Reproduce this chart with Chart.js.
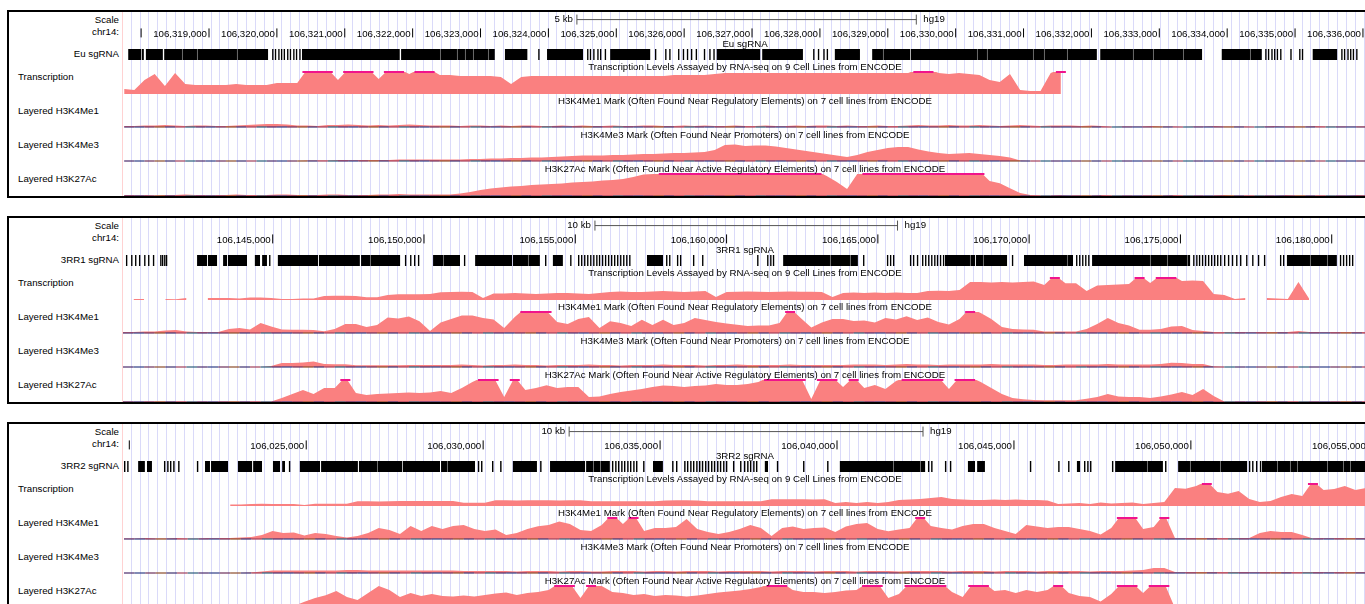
<!DOCTYPE html>
<html>
<head>
<meta charset="utf-8">
<title>IgH 3' regulatory region sgRNA tracks</title>
<script src="https://cdn.jsdelivr.net/npm/chart.js"></script>
<style>
  html, body { margin: 0; padding: 0; background: #fff; }
  body {
    width: 1365px; height: 604px; overflow: hidden; position: relative;
    font-family: "Liberation Sans", Arial, Helvetica, sans-serif; font-size: 9.7px; color: #000;
  }
  .panel { position: absolute; left: 0; width: 1400px; height: 188px; }
  .frame {
    position: absolute; left: 7px; top: 0; width: 1420px; height: 188px;
    border: 2px solid #000; box-sizing: border-box; z-index: 5; pointer-events: none;
  }
  .guides {
    position: absolute; left: 123px; top: 2px; width: 1277px; height: 184px;
    background: repeating-linear-gradient(90deg, transparent 0 7.7px, #dadaf9 7.7px 8.7px, transparent 8.7px 8.87px);
  }
  .divider { position: absolute; left: 122px; top: 2px; width: 1px; height: 184px; background: #ffd2d2; }
  .panel canvas { position: absolute; left: 123px; }
  .lbl { position: absolute; height: 12px; line-height: 12px; white-space: nowrap; z-index: 3; }
  .lbl.r { left: 0; width: 119px; text-align: right; }
  .lbl.c { left: 123px; width: 1244px; text-align: center; }
  .lbl.l { left: 18px; }
</style>
</head>
<body>
<script>
// -----------------------------------------------------------------------------
// Data: chr14 (hg19) windows around the Eu, 3RR1 and 3RR2 sgRNA sets
// -----------------------------------------------------------------------------

// Panel 1 - Eu
const P1_TICKS = [106318000, 106319000, 106320000, 106321000, 106322000, 106323000, 106324000,
  106325000, 106326000, 106327000, 106328000, 106329000, 106330000, 106331000, 106332000,
  106333000, 106334000, 106335000, 106336000];
const P1_SG_BLOCKS = [[106317810, 106318000], [106318010, 106318040], [106318070, 106318320],
  [106318340, 106319870], [106320370, 106321810], [106321830, 106323210], [106323360, 106323690],
  [106323980, 106324510], [106324910, 106325500], [106326480, 106327120], [106327150, 106327750],
  [106328220, 106328590], [106328770, 106329330], [106329340, 106332080], [106332130, 106333630],
  [106333920, 106334510], [106335260, 106335620]];
const P1_SG_SITES = [106319930, 106319970, 106320020, 106320060, 106320100, 106320150, 106320190,
  106320240, 106320280, 106320330, 106323850, 106324570, 106324610, 106324660, 106324720, 106324760,
  106324830, 106325570, 106325720, 106325780, 106325910, 106325980, 106326040, 106326100, 106326170,
  106326290, 106326370, 106326430, 106327900, 106327970, 106328050, 106328100, 106334560, 106334600,
  106334650, 106334690, 106334730, 106334780, 106334930, 106335060, 106335100, 106335680, 106335720,
  106335770, 106335810, 106335850, 106335900];
// boundaries between abutting guides inside the solid runs
const P1_SG_EDGES = [106318602, 106318823, 106319015, 106319236, 106319412, 106319560, 106321372,
  106322138, 106322403, 106322521, 106322653, 106322771, 106322889, 106323022, 106323110, 106328929,
  106329077, 106330314, 106330461, 106331139, 106331301, 106331640, 106331832, 106332318, 106332612,
  106332907, 106333202, 106333349, 106333526, 106334189, 106334336];
const P1_POS_START = 106317750;
const P1_POS_STEP = 150;
const P1_TRANSCRIPTION = [
  5, 4, 14, 20, 8, 21, 10, 9, 9, 9,
  9, 10, 9, 9, 9, 11, 11, 11, 25, 25,
  25, 14, 25, 25, 25, 15, 25, 25, 20, 25,
  25, 19, 19, 18, 18, 18, 18, 17, 10, 17,
  18, 18, 18, 18, 18, 18, 18, 18, 18, 18,
  18, 18, 18, 18, 19, 19, 19, 19, 20, 21,
  21, 21, 21, 21, 21, 21, 21, 21, 21, 21,
  21, 21, 21, 21, 21, 21, 21, 21, 25, 25,
  21, 20, 21, 20, 19, 14, 12, 20, 4, 3,
  3, 21, 25, null, null, null, null, null, null, null,
  null, null, null, null, null, null, null, null, null, null,
  null, null, null, null, null, null, null, null, null, null,
  null, null, null, null];
const P1_H3K4ME1 = [
  1, 1, 1.5, 1.5, 2, 1.5, 1, 1.5, 1.5, 1,
  1, 1.5, 2, 2.5, 3, 3, 2.5, 1.5, 1.5, 1,
  2, 2, 2.5, 2, 1.5, 2, 1.5, 2, 2.5, 2,
  1.5, 1.5, 1.5, 1, 1.5, 1.5, 1, 1.5, 1, 1.5,
  1.5, 1, 1, 1.5, 1, 1.5, 1, 1, 1.5, 1,
  1, 1.5, 1.5, 1, 1, 1.5, 1, 1.5, 1, 1,
  1.5, 1, 1, 1.5, 1, 1, 1.5, 1, 1.5, 1.5,
  1, 1.5, 1, 1, 1.5, 1, 1, 1.5, 2, 1.5,
  1.5, 2, 1.5, 1.5, 2, 1.5, 1, 1.5, 2, 1.5,
  1, 1.5, 1.5, 1.5, 1, 1.5, 1, 0, 0.5, 0.5,
  0.5, 1, 0.5, 0.5, 0, 0.5, 0.5, 1, 0.5, 0.5,
  0.5, 0, 0.5, 1, 0.5, 0.5, 0.5, 1, 0.5, 0.5,
  0.5, 0.5, 0.5, 0.5];
const P1_H3K4ME3 = [
  0, 0, 0, 0, 0, 0, 0, 0, 0, 0,
  0, 0, 0, 0, 0, 0, 0, 0, 0.5, 0.5,
  0.5, 1, 1, 1, 1, 1, 1, 1.5, 1.5, 1.5,
  1.5, 1.5, 1.5, 1.5, 2, 2, 2.5, 2.5, 3, 3,
  3.5, 3.5, 4, 4.5, 5, 5.5, 5.5, 5.5, 6, 6,
  6.5, 7, 7, 7.5, 8, 8, 8.5, 9, 11, 16,
  16.5, 15, 15.5, 15.5, 14.5, 13, 11.5, 10, 8.5, 7,
  5.5, 4, 6, 9, 11, 13, 14, 14, 11.5, 9.5,
  8, 7, 7.5, 8, 7, 6, 5, 3.5, 0.5, 0,
  0, 0, 0, 0, 0, 0, 0, 0, 0, 0,
  0, 0, 0, 0, 0, 0, 0, 0, 0, 0,
  0, 0, 0, 0, 0, 0, 0, 0, 0, 0,
  0, 0, 0, 0];
const P1_H3K27AC = [
  1, 1, 1, 0.5, 1, 1, 1.5, 1, 1, 1,
  1, 1.5, 1, 1, 1, 1.5, 1.5, 1, 1, 1,
  1.5, 1.5, 1, 1, 1, 1.5, 1.5, 2, 1.5, 1.5,
  1.5, 1.5, 1.5, 2.5, 4, 6, 7.5, 8.5, 9.5, 10,
  11, 11.5, 12, 12.5, 13.5, 14, 14.5, 15.5, 16, 17,
  19, 21.5, 22, 25, 25, 25, 25, 25, 25, 25,
  25, 25, 25, 25, 25, 25, 25, 25, 25, 20,
  14, 7, 22, 25, 25, 25, 25, 25, 25, 25,
  25, 25, 25, 25, 25, 15, 12.7, 7.7, 3, 1,
  0.5, 0.5, 1, 0.5, 0.5, 0.5, 1, 0.5, 0.5, 0.5,
  0.5, 0.5, 0.5, 1, 0.5, 0.5, 0.5, 0.5, 1, 0.5,
  0.5, 0.5, 0.5, 0.5, 1, 0.5, 0.5, 0.5, 0.5, 0.5,
  0.5, 1, 0.5, 0.5];

// Panel 2 - 3RR1
const P2_TICKS = [106145000, 106150000, 106155000, 106160000, 106165000, 106170000, 106175000, 106180000];
const P2_SG_BLOCKS = [[106142500, 106142830], [106142860, 106143160], [106143360, 106143490],
  [106143520, 106144150], [106144410, 106144580], [106144650, 106144810], [106145170, 106146500],
  [106146530, 106147880], [106147920, 106149210], [106150300, 106151190], [106151690, 106152910],
  [106152940, 106153830], [106154260, 106154590], [106157370, 106157900], [106161870, 106164340],
  [106167220, 106168210], [106168240, 106169270], [106169830, 106171450], [106172080, 106175320],
  [106178520, 106180170]];
const P2_SG_SITES = [106140150, 106140320, 106140450, 106140580, 106140750, 106140880, 106141040,
  106141280, 106141340, 106141410, 106141470, 106144880, 106149370, 106149540, 106149670, 106149800,
  106150930, 106151060, 106151320, 106154000, 106154830, 106155090, 106155190, 106155290, 106155390,
  106155490, 106155590, 106155690, 106155780, 106155880, 106155980, 106156080, 106156180, 106156280,
  106156380, 106156480, 106156580, 106156680, 106156780, 106158000, 106158100, 106158360, 106158460,
  106158890, 106159190, 106161010, 106161340, 106161440, 106161530, 106164510, 106165300, 106165400,
  106165500, 106166060, 106166160, 106166290, 106166460, 106166560, 106166660, 106166760, 106166860,
  106166950, 106167050, 106167150, 106169430, 106171550, 106171650, 106171750, 106171850, 106171950,
  106175420, 106175520, 106175610, 106175710, 106175810, 106175910, 106176010, 106176110, 106176210,
  106176310, 106176440, 106176570, 106176700, 106176840, 106176970, 106177170, 106177370, 106177560,
  106177760, 106178290, 106178390, 106180270, 106180370, 106180470, 106180570, 106180670];
const P2_SG_EDGES = [106148215, 106149108, 106150628, 106150926, 106153074, 106153239, 106153437,
  106153669, 106162427, 106163418, 106164079, 106167484, 106168045, 106168475, 106168938, 106170359,
  106170921, 106171251, 106172904, 106173994, 106174556, 106174986, 106175217, 106178853, 106179282,
  106179844];
const P2_POS_START = 106140050;
const P2_POS_STEP = 350;
const P2_TRANSCRIPTION = [
  null, 1, 1, null, 1, 0.7, 2, null, 2, 2,
  2, 1.5, 2.5, 2.5, 2, 1, 1, 1.5, 1.5, 4,
  4.3, 4.3, 4, 2.7, 2.7, 5, 5.7, 5.7, 5.7, 6,
  7.7, 8, 8.3, 8, 2, 6.5, 6.5, 7, 6.5, 6,
  6.5, 7, 7, 6.5, 6, 7, 8, 8.5, 8, 8,
  8.5, 9, 8.5, 8, 8.5, 9, 3, 8, 8.3, 8.5,
  8.3, 8, 8.3, 8.5, 8.3, 8.3, 8, 3, 7, 7.5,
  7, 7.5, 7, 7.5, 7, 7, 9, 9.3, 9, 10,
  18, 18, 17.5, 18, 17.5, 18, 18.5, 15, 25, 16.7,
  16.7, 9, 14.5, 15, 15.5, 16, 25, 17, 25, 25,
  19, 19.5, 19, 6, 5, 1, 2, null, 2, 1.5,
  1, 18, 1.5, null, 1, null, 1, null, null];
const P2_H3K4ME1 = [
  1, 1, 1.5, 1.5, 2.5, 3, 1.5, 1, 1, 1,
  4, 5, 3.5, 10, 6.5, 3.5, 3.3, 3.3, 3, 1.7,
  4, 9, 9, 6, 8, 15.5, 14.5, 16.5, 11.7, 2,
  10.5, 14, 17.5, 17.5, 15, 13.5, 5, 16, 25, 25,
  22, 11, 9, 14, 16, 5, 11.7, 10, 7, 13.3,
  8, 13.3, 8, 10, 15, 13, 11, 9.5, 8.3, 7,
  7.5, 7.5, 10, 25, 15, 5.5, 10.5, 14, 14, 12,
  12.5, 10.5, 15, 13.5, 16.7, 13, 15.5, 11, 8.5, 14,
  25, 20, 14, 6, 4, 3.5, 3.3, 1.5, 1.5, 1.5,
  1.5, 4, 9, 15, 10, 7.5, 3.3, 3.3, 4, 6.5,
  7, 3, 2, 1, 1, 1, 1, 1, 1, 1,
  1, 2, 1, 1, 1, 1, 1, 1, 1];
const P2_H3K4ME3 = [
  0, 0, 0, 0, 0, 0, 0, 0, 0, 0,
  0, 0, 0, 0, 1, 4, 4, 4.5, 5.5, 3,
  2.7, 2.7, 1.7, 1.7, 1.7, 1.7, 1.7, 2, 2, 2,
  2, 2, 2.5, 2, 1.5, 2, 2, 2.5, 2, 2,
  1.5, 2, 2, 2, 2.5, 2, 2, 1.5, 2, 2,
  2, 2.5, 2, 2, 2, 1.5, 2, 2, 2.5, 2,
  2, 2, 2, 2.5, 2, 2, 2, 2, 2, 2.5,
  2.5, 2.5, 2, 2.5, 3, 2.5, 2.5, 2, 2.5, 2.5,
  2.5, 2.5, 3, 2.5, 2.5, 2.5, 2.5, 2, 2, 2.5,
  2.5, 2.5, 2.5, 3, 2.5, 2.5, 2.5, 2.5, 3, 4.3,
  4, 3, 3, 0.5, 0, 0, 0, 0, 0, 0,
  0, 0, 0, 0, 0, 0, 0, 0, 0];
const P2_H3K27AC = [
  0.5, 0.5, 0.5, 0.5, 0.5, 0.5, 0.5, 0.5, 0.5, 0.5,
  0.5, 0.5, 0.5, 0.5, 0.5, 4, 8, 12, 8, 14,
  14, 25, 9, 7, 8, 8.5, 9, 9.5, 9, 9.5,
  11, 9, 14, 20, 25, 25, 5, 25, 12, 14,
  16.7, 14, 15, 15, 5, 5.5, 8, 10, 11.5, 13,
  15, 16.5, 16, 15, 16, 16.5, 18, 17, 17, 18,
  20, 25, 25, 25, 25, 3, 25, 25, 15, 25,
  14, 17, 13, 21, 25, 25, 25, 25, 13, 25,
  25, 20, 14, 8, 4, 2.7, 2, 1.7, 1.7, 1.7,
  1.7, 3.3, 5, 8, 5.5, 5, 5, 4, 5.5, 7.5,
  10, 7, 13, 6, 0.5, 0.5, 0.5, 0.5, 0.5, 0.5,
  0.5, 0.5, 0.5, 0.5, 0.5, 0.5, 0.5, 0.5, 0.5];

// Panel 3 - 3RR2
const P3_TICKS = [106020000, 106025000, 106030000, 106035000, 106040000, 106045000, 106050000, 106055000];
const P3_SG_BLOCKS = [[106020250, 106020440], [106020500, 106020640], [106022140, 106022280],
  [106022310, 106022790], [106023070, 106023470], [106023500, 106023750], [106024060, 106024260],
  [106024320, 106024400], [106024820, 106025390], [106025420, 106026460], [106026490, 106027710],
  [106027730, 106028780], [106028810, 106029770], [106030840, 106031520], [106031890, 106032880],
  [106032910, 106033580], [106034800, 106035080], [106037960, 106038050], [106040080, 106042490],
  [106043700, 106043900], [106043960, 106044180], [106046780, 106046870], [106047860, 106049210],
  [106049640, 106051590], [106052010, 106055900]];
const P3_SG_SITES = [106019850, 106019940, 106020980, 106021070, 106021150, 106021240, 106021380,
  106021910, 106024510, 106029850, 106029940, 106030250, 106030480, 106031610, 106033640, 106033730,
  106033810, 106033900, 106033980, 106034070, 106034150, 106034240, 106034320, 106034520, 106035340,
  106035450, 106035680, 106035760, 106035850, 106035930, 106036020, 106036100, 106036180, 106036270,
  106036350, 106036440, 106036520, 106036610, 106036690, 106036780, 106036860, 106037060, 106037260,
  106037370, 106037460, 106037540, 106037630, 106037710, 106038300, 106039040, 106039720, 106042570,
  106042660, 106043050, 106043190, 106045450, 106046250, 106046530, 106046980, 106047070, 106047150,
  106047770, 106049270, 106051640, 106051730, 106051840, 106051950];
const P3_SG_EDGES = [106027000, 106027933, 106028583, 106028978, 106029148, 106032822, 106033104,
  106033302, 106033500, 106040650, 106041215, 106041582, 106041865, 106042063, 106042345, 106048280,
  106048760, 106049975, 106050456, 106050823, 106051191, 106052434, 106052801, 106052999, 106053367,
  106053847, 106054299, 106054497, 106054695];
const P3_POS_START = 106019850;
const P3_POS_STEP = 300;
const P3_TRANSCRIPTION = [
  null, 1, null, null, 1, null, null, null, null, null,
  1.5, 1.5, 2, 2.3, 2, 2, 2, 1, 2.3, 2.3,
  2.3, 2.3, 4.7, 4.7, 4.5, 4.7, 5, 5, 5, 5,
  5, 5, 3.3, 3.3, 3.3, 5.7, 5.7, 5.5, 5.7, 5.7,
  5.7, 5.5, 5.7, 5.7, 4.7, 4.7, 4.7, 4.7, 4.7, 4.7,
  4.7, 5.5, 5.7, 5.7, 5.5, 4.7, 4.7, 4.7, 4.7, 4.7,
  4.7, 6.7, 6.7, 6.7, 6.7, 6.5, 6.7, 3, 4, 3,
  4, 3, 4, 6, 6.5, 7, 8, 9, 7, 6.5,
  6, 6, 6.5, 6, 6.5, 6, 6, 5.5, 2, 2.5,
  3, 2, 3.5, 2.5, 3, 3.5, 2, 3, 4, 18,
  17.3, 20, 25, 14, 12.3, 15, 7, 4, 5, 9,
  12, 10, 25, 16, 17, 20, 16, 18, 18];
const P3_H3K4ME1 = [
  0.5, 0.5, 1, 0.5, 0.5, 1, 0.5, 0.5, 1, 1,
  1, 1.5, 2, 4, 8, 6, 6.5, 3.5, 6, 5,
  3, 1.5, 3, 6, 11, 9, 5, 13, 8, 13,
  10, 13, 14, 10, 8, 9.5, 4, 6, 10, 12.7,
  14, 17.5, 15, 9, 8, 14, 25, 15, 25, 8,
  11, 11, 12, 20, 10, 7, 5, 7, 10, 14,
  11, 3, 11, 12.5, 10, 11, 11.5, 7, 12.5, 15,
  16, 10, 7.7, 9.5, 11, 25, 13, 11, 9.5, 13,
  15, 15, 11, 8, 5, 14, 12.5, 11, 12, 12,
  10, 8, 4.5, 11, 25, 25, 10, 12, 25, 1,
  1, 1, 1, 1, 1, 1, 1, 6, 8, 7,
  7, 4, 0.5, 1, 1, 1, 1, 1, 1];
const P3_H3K4ME3 = [
  0, 0, 0, 0, 0, 0, 0, 0, 0, 0,
  0, 0, 0.5, 1.5, 2.5, 2.5, 2.5, 2.5, 2.5, 2.5,
  2.5, 3, 3, 2.5, 2.5, 2.5, 2.5, 2.5, 2.5, 2.5,
  2.5, 2.5, 2, 2, 2, 2, 2, 1.5, 2, 2,
  2, 1.5, 2, 2, 1.5, 1.5, 2, 2, 2, 1.5,
  2, 2, 1.5, 2, 2, 2, 1.5, 2, 2, 2,
  2, 1.5, 2, 2, 2, 1.5, 2, 2, 2, 1.5,
  2, 2, 2, 1.5, 2, 2, 2, 2, 1.5, 2,
  2, 2, 1.5, 2, 2, 2, 1.5, 2, 2, 2,
  2, 1.5, 2, 2, 2, 2.5, 3, 5, 5, 1,
  1, 1, 1, 1, 1, 1, 1, 1, 1, 1,
  1, 1, 1, 1, 1, 1, 1, 1, 1];
const P3_H3K27AC = [
  0, 0, 0, 0, 0, 0, 0, 0, 0, 0,
  0, 0, 0, 0, 0, 0, 2, 6.3, 10, 12.7,
  17, 11, 8, 15, 22, 18, 11, 15, 12, 14,
  12, 11.5, 12.5, 11.5, 13, 14.5, 15.5, 13, 15, 16,
  18, 25, 25, 10, 25, 22, 16, 15, 13, 14,
  12, 13, 12.5, 11.5, 12.5, 14, 15.5, 16.5, 17.5, 19,
  21, 25, 25, 18, 16, 16, 15, 16, 17.5, 18,
  25, 25, 10, 14, 25, 25, 25, 25, 16, 11,
  25, 25, 17, 18, 15, 18, 16, 18, 25, 15,
  12, 11, 6.5, 14, 25, 25, 15, 25, 25, 0,
  0, 0, 0, 0, 0, 0, 0, 1, 2, 0,
  0, 0, 0, 0, 0, 0, 0, 0, 0];

// -----------------------------------------------------------------------------
// Layout / styling
// -----------------------------------------------------------------------------
const FONT = "'Liberation Sans', Arial, Helvetica, sans-serif";
const FONT_SIZE = 9.7;
const PLOT_W = 1277;
const FILL = "#fa8080";
const CLIP = "#f0148c";
const EDGE = "#9c9c9c";
const BASE_COLORS = ["#4b2c6b", "#2f3f86", "#6b2f5a", "#8a4b2a", "#3d2f6e", "#a0405a", "#2b5c7a"];
const RULER_TICK_Y = 19.3;
const RULER_BAR_Y = 7;

const TRACKS = [
  { label: "Transcription", title: "Transcription Levels Assayed by RNA-seq on 9 Cell Lines from ENCODE",
    top: 62, base: 84, vmax: 22, layered: false },
  { label: "Layered H3K4Me1", title: "H3K4Me1 Mark (Often Found Near Regulatory Elements) on 7 cell lines from ENCODE",
    top: 96, base: 117, vmax: 21, layered: true },
  { label: "Layered H3K4Me3", title: "H3K4Me3 Mark (Often Found Near Promoters) on 7 cell lines from ENCODE",
    top: 130, base: 151, vmax: 21, layered: true },
  { label: "Layered H3K27Ac", title: "H3K27Ac Mark (Often Found Near Active Regulatory Elements) on 7 cell lines from ENCODE",
    top: 164, base: 186, vmax: 22, layered: true },
];

const PANELS = [
  { top: 10, min: 106317733, max: 106336546, ticks: P1_TICKS, hideTicks: [106318000],
    scaleStart: 106324420, scaleLen: 5000, scaleLabel: "5 kb", sgName: "Eu sgRNA",
    sgBlocks: P1_SG_BLOCKS, sgSites: P1_SG_SITES, sgEdges: P1_SG_EDGES, sgMinWidth: 20,
    posStart: P1_POS_START, posStep: P1_POS_STEP,
    signals: [P1_TRANSCRIPTION, P1_H3K4ME1, P1_H3K4ME3, P1_H3K27AC] },
  { top: 216, min: 106140052, max: 106182257, ticks: P2_TICKS, hideTicks: [],
    scaleStart: 106155650, scaleLen: 10000, scaleLabel: "10 kb", sgName: "3RR1 sgRNA",
    sgBlocks: P2_SG_BLOCKS, sgSites: P2_SG_SITES, sgEdges: P2_SG_EDGES, sgMinWidth: 45,
    posStart: P2_POS_START, posStep: P2_POS_STEP,
    signals: [P2_TRANSCRIPTION, P2_H3K4ME1, P2_H3K4ME3, P2_H3K27AC] },
  { top: 422, min: 106019822, max: 106055910, ticks: P3_TICKS, hideTicks: [106020000],
    scaleStart: 106032430, scaleLen: 10000, scaleLabel: "10 kb", sgName: "3RR2 sgRNA",
    sgBlocks: P3_SG_BLOCKS, sgSites: P3_SG_SITES, sgEdges: P3_SG_EDGES, sgMinWidth: 40,
    posStart: P3_POS_START, posStep: P3_POS_STEP,
    signals: [P3_TRANSCRIPTION, P3_H3K4ME1, P3_H3K4ME3, P3_H3K27AC] },
];

Chart.defaults.font.family = FONT;

// -----------------------------------------------------------------------------
// Helpers
// -----------------------------------------------------------------------------
function addLabel(panel, text, cls, cy, extraStyle) {
  const d = document.createElement("div");
  d.className = "lbl " + cls;
  d.style.top = (cy - 6) + "px";
  if (extraStyle) Object.assign(d.style, extraStyle);
  d.textContent = text;
  panel.appendChild(d);
  return d;
}

function addCanvas(panel, top, height) {
  const c = document.createElement("canvas");
  c.width = PLOT_W;
  c.height = height;
  c.style.top = top + "px";
  c.style.width = PLOT_W + "px";
  c.style.height = height + "px";
  panel.appendChild(c);
  return c;
}

function baseOptions(p, y, padding) {
  return {
    responsive: false,
    animation: false,
    devicePixelRatio: 1,
    events: [],
    layout: { padding: padding || 0, autoPadding: false },
    plugins: { legend: { display: false }, tooltip: { enabled: false } },
    scales: {
      x: { type: "linear", min: p.min, max: p.max, display: false },
      y: Object.assign({ display: false }, y),
    },
  };
}

// spans -> points of a broken line (null y starts a new piece)
function spanPoints(spans) {
  const pts = [];
  spans.forEach(([s, e]) => { pts.push({ x: s, y: 0 }, { x: e, y: 0 }, { x: e, y: null }); });
  return pts;
}

// ruler: tick marks, coordinate labels and the scale bar
function rulerChart(panel, p) {
  const canvas = addCanvas(panel, 2, 26);
  const opts = baseOptions(p, { min: 0, max: 24, reverse: true });
  opts.scales.x = {
    type: "linear", min: p.min, max: p.max,
    grid: { display: false, drawTicks: false },
    border: { display: false },
    afterBuildTicks: s => { s.ticks = p.ticks.map(v => ({ value: v })); },
    ticks: {
      autoSkip: false, maxRotation: 0, minRotation: 0,
      align: "end", labelOffset: -2, padding: -9.3,
      color: "#000", font: { family: FONT, size: FONT_SIZE },
      callback: v => p.hideTicks.includes(v) ? "" : v.toLocaleString("en-US"),
    },
  };
  const chart = new Chart(canvas, {
    type: "scatter",
    data: {
      datasets: [
        {
          data: p.ticks.map(v => ({ x: v, y: RULER_TICK_Y })),
          pointStyle: "line", pointRotation: 90, pointRadius: 4.5,
          pointBorderColor: "#000", pointBorderWidth: 1, showLine: false,
        },
        {
          data: [{ x: p.scaleStart, y: RULER_BAR_Y }, { x: p.scaleStart + p.scaleLen, y: RULER_BAR_Y }],
          showLine: true, borderColor: "#555", borderWidth: 1,
          pointStyle: "line", pointRotation: 90, pointRadius: 5,
          pointBorderColor: "#555", pointBorderWidth: 1,
        },
      ],
    },
    options: opts,
  });

  const x0 = 123 + chart.scales.x.getPixelForValue(p.scaleStart);
  const x1 = 123 + chart.scales.x.getPixelForValue(p.scaleStart + p.scaleLen);
  addLabel(panel, p.scaleLabel, "", 9, { left: "0px", width: (x0 - 4) + "px", textAlign: "right" });
  addLabel(panel, "hg19", "", 9, { left: (x1 + 7) + "px" });
}

// sgRNA track: each span is a thick butt-capped line segment,
// with thin grey seams where neighbouring guides abut
function sgChart(panel, p) {
  const canvas = addCanvas(panel, 37, 15);
  const spans = p.sgBlocks.concat(p.sgSites.map(s => [s, s + p.sgMinWidth]))
    .sort((a, b) => a[0] - b[0]);
  const seams = p.sgEdges.map(s => [s, s + p.sgMinWidth / 2]);
  new Chart(canvas, {
    type: "line",
    data: {
      datasets: [
        {
          data: spanPoints(seams), borderColor: EDGE, borderWidth: 11, borderCapStyle: "butt",
          pointRadius: 0, spanGaps: false, order: 1,
        },
        {
          data: spanPoints(spans), borderColor: "#000", borderWidth: 11, borderCapStyle: "butt",
          pointRadius: 0, spanGaps: false, order: 2,
        },
      ],
    },
    options: baseOptions(p, { min: -1, max: 1 }),
  });
}

// one ENCODE signal track; values above vmax are clipped and flagged in magenta
function signalChart(panel, p, track, values) {
  const canvas = addCanvas(panel, track.top - 2, track.base - track.top + 3);
  const xs = values.map((_, i) => p.posStart + i * p.posStep);
  const datasets = [
    {
      data: values.map((v, i) => ({ x: xs[i], y: v })),
      fill: "origin", backgroundColor: FILL, borderWidth: 0,
      pointRadius: 0, spanGaps: false, order: 3,
    },
    {
      data: values.map((v, i) => ({ x: xs[i], y: v !== null && v > track.vmax ? track.vmax : null })),
      borderColor: CLIP, borderWidth: 2, pointStyle: "line", pointRadius: 5,
      pointBorderColor: CLIP, pointBorderWidth: 2, spanGaps: false, clip: 4, order: 1,
    },
  ];
  if (track.layered) {
    datasets.push({
      data: xs.map(x => ({ x, y: 0 })),
      borderWidth: 1.2, pointRadius: 0, clip: 4, order: 2,
      segment: { borderColor: ctx => BASE_COLORS[ctx.p0DataIndex % BASE_COLORS.length] },
    });
  }
  new Chart(canvas, {
    type: "line",
    data: { datasets },
    options: baseOptions(p, { min: 0, max: track.vmax }, { top: 2, bottom: 1 }),
  });
}

// -----------------------------------------------------------------------------
// Build the three panels
// -----------------------------------------------------------------------------
PANELS.forEach(p => {
  const panel = document.createElement("div");
  panel.className = "panel";
  panel.style.top = p.top + "px";
  document.body.appendChild(panel);
  panel.insertAdjacentHTML("beforeend", `<div class="guides"></div><div class="divider"></div>`);

  addLabel(panel, "Scale", "r", 10);
  addLabel(panel, "chr14:", "r", 22);
  addLabel(panel, p.sgName, "r", 44);
  addLabel(panel, p.sgName, "c", 34);

  rulerChart(panel, p);
  sgChart(panel, p);

  TRACKS.forEach((t, k) => {
    addLabel(panel, t.label, "l", t.top + 5);
    addLabel(panel, t.title, "c", t.top - 5);
    signalChart(panel, p, t, p.signals[k]);
  });

  panel.insertAdjacentHTML("beforeend", `<div class="frame"></div>`);
});
</script>
</body>
</html>
